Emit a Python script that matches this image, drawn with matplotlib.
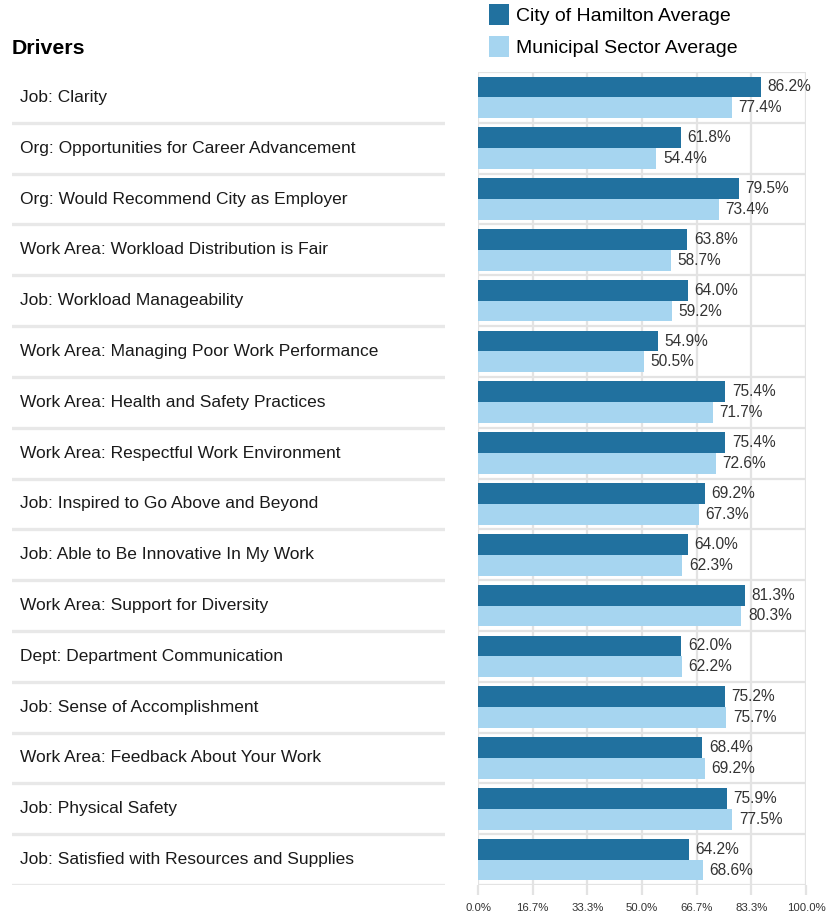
import numpy as np
import matplotlib.pyplot as plt
from matplotlib.patches import Patch

# Drivers and scores (%)
drivers = [
    "Job: Clarity",
    "Org: Opportunities for Career Advancement",
    "Org: Would Recommend City as Employer",
    "Work Area: Workload Distribution is Fair",
    "Job: Workload Manageability",
    "Work Area: Managing Poor Work Performance",
    "Work Area: Health and Safety Practices",
    "Work Area: Respectful Work Environment",
    "Job: Inspired to Go Above and Beyond",
    "Job: Able to Be Innovative In My Work",
    "Work Area: Support for Diversity",
    "Dept: Department Communication",
    "Job: Sense of Accomplishment",
    "Work Area: Feedback About Your Work",
    "Job: Physical Safety",
    "Job: Satisfied with Resources and Supplies",
]
hamilton = [86.2, 61.8, 79.5, 63.8, 64.0, 54.9, 75.4, 75.4, 69.2, 64.0, 81.3, 62.0, 75.2, 68.4, 75.9, 64.2]
municipal = [77.4, 54.4, 73.4, 58.7, 59.2, 50.5, 71.7, 72.6, 67.3, 62.3, 80.3, 62.2, 75.7, 69.2, 77.5, 68.6]
tick_vals = [0, 100/6, 200/6, 50, 400/6, 500/6, 100]
tick_labels = ["0.0%", "16.7%", "33.3%", "50.0%", "66.7%", "83.3%", "100.0%"]

dark = "#21719f"
light = "#a6d5f0"
grid = "#e3e3e3"
plt.rcParams["font.family"] = ["Liberation Sans", "DejaVu Sans"]

W, H = 826, 916
fig = plt.figure(figsize=(W / 100, H / 100), dpi=100)

top_px, bot_px = 72, 885
ax = fig.add_axes([478 / W, 1 - bot_px / H, (806 - 478) / W, (bot_px - top_px) / H])
lab = fig.add_axes([12 / W, 1 - bot_px / H, (445 - 12) / W, (bot_px - top_px) / H])

n = len(drivers)
y = np.arange(n)
h = 0.41

ax.barh(y - h / 2, hamilton, height=h, color=dark, zorder=3)
ax.barh(y + h / 2, municipal, height=h, color=light, zorder=3)
for i in range(n):
    ax.text(hamilton[i] + 2, y[i] - h / 2, f"{hamilton[i]:.1f}%", va="center", ha="left",
            fontsize=11.2, color="#333333", zorder=4)
    ax.text(municipal[i] + 2, y[i] + h / 2, f"{municipal[i]:.1f}%", va="center", ha="left",
            fontsize=11.2, color="#333333", zorder=4)

# grid
for t in tick_vals:
    ax.axvline(t, color=grid, lw=1.6, zorder=1)
for b in np.arange(-0.5, n, 1.0):
    ax.axhline(b, color=grid, lw=1.6, zorder=1)

ax.set_xlim(0, 100)
ax.set_ylim(n - 0.5, -0.5)
ax.set_yticks([])
ax.set_xticks(tick_vals)
ax.set_xticklabels(tick_labels, fontsize=8.2, color="#333333")
ax.tick_params(axis="x", length=7, width=1.6, color=grid, pad=6)
for s in ax.spines.values():
    s.set_visible(False)

# left column of driver labels
lab.set_xlim(0, 1)
lab.set_ylim(n - 0.5, -0.5)
lab.axis("off")
for i, d in enumerate(drivers):
    lab.text(8 / 433, i, d, va="center", ha="left", fontsize=12.5, color="#1a1a1a")
    lab.axhline(i + 0.5, color="#e8e8e8", lw=2.4)

fig.text(12 / W, 1 - 48 / H, "Drivers", fontsize=15.3, fontweight="bold", va="center", ha="left")

handles = [Patch(facecolor=dark, label="City of Hamilton Average"),
           Patch(facecolor=light, label="Municipal Sector Average")]
fig.legend(handles=handles, loc="upper left", bbox_to_anchor=(489 / W, 1 - 4 / H),
           frameon=False, fontsize=14, handlelength=1.03, handleheight=1.3,
           handletextpad=0.36, labelspacing=0.55, borderaxespad=0, borderpad=0)

fig.savefig("out.png", dpi=100)
